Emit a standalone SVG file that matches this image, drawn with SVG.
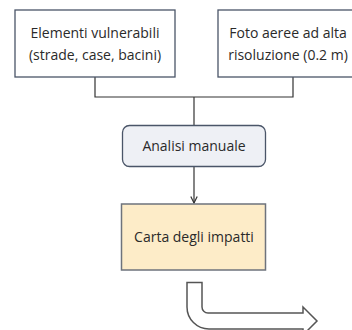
<svg xmlns="http://www.w3.org/2000/svg" width="352" height="330" viewBox="0 0 352 330">
<defs>
<style>
.box{fill:#ffffff;stroke:#4a5568;stroke-width:1.3}
.proc{fill:#eef0f5;stroke:#4a5568;stroke-width:1.3}
.out{fill:#fdecc8;stroke:#6e737c;stroke-width:1.5}
.t{font-family:"Open Sans","Liberation Sans",sans-serif;font-size:14px;fill:#2a2a2a;text-anchor:middle}
.c{fill:none;stroke:#333333;stroke-width:1.2}
.big{fill:#ffffff;stroke:#555555;stroke-width:1.5;stroke-linejoin:miter}
</style>
<marker id="v" viewBox="0 0 10 10" refX="9" refY="5" markerWidth="8" markerHeight="8" markerUnits="userSpaceOnUse" orient="auto">
<path d="M1,1 L9,5 L1,9" fill="none" stroke="#333333" stroke-width="1.5"/>
</marker>
</defs>
<rect width="352" height="330" fill="#ffffff"/>
<g id="connectors">
<path class="c" d="M95,77 V97 H293 V77"/>
<path class="c" d="M194,97 V125"/>
<path class="c" d="M194,167 V203" marker-end="url(#v)"/>
</g>
<g id="n1">
<rect class="box" x="15" y="10" width="160" height="67"/>
<text class="t" x="95" y="38">Elementi vulnerabili</text>
<text class="t" x="95" y="60">(strade, case, bacini)</text>
</g>
<g id="n2">
<rect class="box" x="218" y="10" width="150" height="67"/>
<text class="t" x="288" y="38">Foto aeree ad alta</text>
<text class="t" x="288" y="60">risoluzione (0.2 m)</text>
</g>
<g id="n3">
<rect class="proc" x="122.5" y="125.5" width="143" height="41" rx="7"/>
<text class="t" x="194" y="151">Analisi manuale</text>
</g>
<g id="n4">
<rect class="out" x="121.5" y="204" width="144" height="66"/>
<text class="t" x="194" y="242">Carta degli impatti</text>
</g>
<g id="n5">
<path class="big" d="M187,282.5 H202 V307 A6,6 0 0 0 208,313 H303 V307 L317,321 L303,335 V329 H209 A22,22 0 0 1 187,307 Z"/>
</g>
</svg>
